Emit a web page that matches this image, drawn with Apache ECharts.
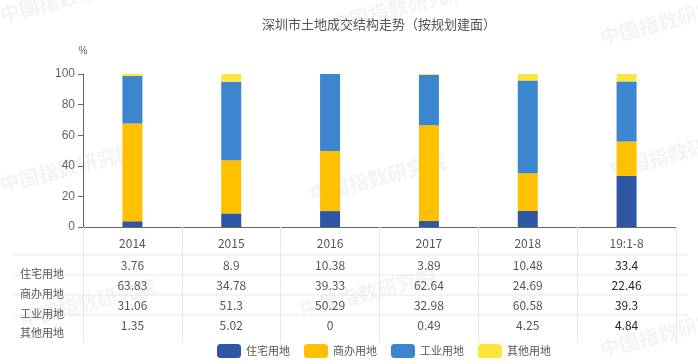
<!DOCTYPE html>
<html>
<head>
<meta charset="utf-8">
<script src="https://cdn.jsdelivr.net/npm/echarts@6/dist/echarts.min.js"></script>
<style>html,body{margin:0;padding:0;background:#fff}#c{width:698px;height:364px}</style>
</head>
<body>
<div id="c"></div>
<script>
const categories = ['2014', '2015', '2016', '2017', '2018', '19:1-8'];
const seriesNames = ['住宅用地', '商办用地', '工业用地', '其他用地'];
const residential = [3.76, 8.9, 10.38, 3.89, 10.48, 33.4];
const commercial = [63.83, 34.78, 39.33, 62.64, 24.69, 22.46];
const industrial = [31.06, 51.3, 50.29, 32.98, 60.58, 39.3];
const other = [1.35, 5.02, 0, 0.49, 4.25, 4.84];
const seriesValues = [residential, commercial, industrial, other];
const colors = ['#2D56A4', '#FFC000', '#3B86CE', '#FFE53B'];
const titleText = '深圳市土地成交结构走势（按规划建面）';
const watermark = '中国指数研究院';

const cjk = '"Noto Sans CJK SC", "Noto Sans", sans-serif';
const chart = echarts.init(document.getElementById('c'));

const labelRich = {
  n: { color: '#555', fontSize: 12, fontFamily: cjk },
  b: { color: '#262626', fontSize: 12, fontFamily: cjk }
};
function fmtCat(v) { return '{n|' + v + '}'; }
function fmt(v, i) { return (i === categories.length - 1 ? '{b|' : '{n|') + v + '}'; }

const xAxes = [{
  type: 'category', data: categories, gridIndex: 0, position: 'bottom',
  axisLine: { show: true, lineStyle: { color: '#666', width: 1 } },
  axisTick: { show: true, length: 115, lineStyle: { color: '#e6e6e6' } },
  axisLabel: { margin: 10, formatter: fmtCat, rich: labelRich }
}];
seriesValues.forEach((vals, k) => {
  xAxes.push({
    type: 'category', data: vals.map(String), gridIndex: 0, position: 'bottom',
    offset: 22 + k * 20,
    axisLine: { show: false }, axisTick: { show: false }, splitLine: { show: false },
    axisLabel: { margin: 10, formatter: fmt, rich: labelRich }
  });
});

const graphics = [];
[255, 275, 295, 315].forEach(y => graphics.push({
  type: 'line', shape: { x1: 13, y1: y, x2: 688, y2: y },
  style: { stroke: '#e8e8e8', lineWidth: 1 }, silent: true
}));
[274, 294, 314, 333].forEach((y, k) => graphics.push({
  type: 'text', x: 20, y: y,
  style: { text: seriesNames[k], fill: '#555', font: '11px ' + cjk, textVerticalAlign: 'middle' }
}));
[[0, 15], [330, 25], [600, 38], [0, 185], [310, 195], [610, 170], [20, 320], [300, 310], [600, 350]].forEach(p => graphics.push({
  type: 'text', x: p[0], y: p[1], rotation: 0.25, z: -1,
  style: { text: watermark, fill: 'rgba(200,200,200,0.22)', font: 'bold 20px ' + cjk, textVerticalAlign: 'middle' }
}));

chart.setOption({
  animation: false,
  title: {
    text: titleText, left: 257, top: 13,
    textStyle: { fontSize: 13, fontWeight: 'normal', color: '#555', fontFamily: cjk }
  },
  legend: {
    data: seriesNames, left: 212, top: 339, icon: 'roundRect',
    itemWidth: 24, itemHeight: 14, itemGap: 14,
    textStyle: { fontSize: 11, color: '#555', fontFamily: cjk }
  },
  grid: { left: 83, right: 22, top: 74, bottom: 137, containLabel: false },
  xAxis: xAxes,
  yAxis: {
    type: 'value', min: 0, max: 100, interval: 20,
    name: '%', nameLocation: 'end', nameGap: 18,
    nameTextStyle: { color: '#666', fontSize: 10, align: 'center' },
    axisLine: { show: true, lineStyle: { color: '#666' } },
    axisTick: { show: true, length: 5, lineStyle: { color: '#666' } },
    axisLabel: { color: '#666', fontSize: 12, margin: 8 },
    splitLine: { show: false }
  },
  graphic: graphics,
  series: seriesNames.map((name, k) => ({
    name: name, type: 'bar', stack: 'total', xAxisIndex: 0,
    barWidth: 20, data: seriesValues[k],
    itemStyle: { color: colors[k] }
  }))
});
</script>
</body>
</html>
